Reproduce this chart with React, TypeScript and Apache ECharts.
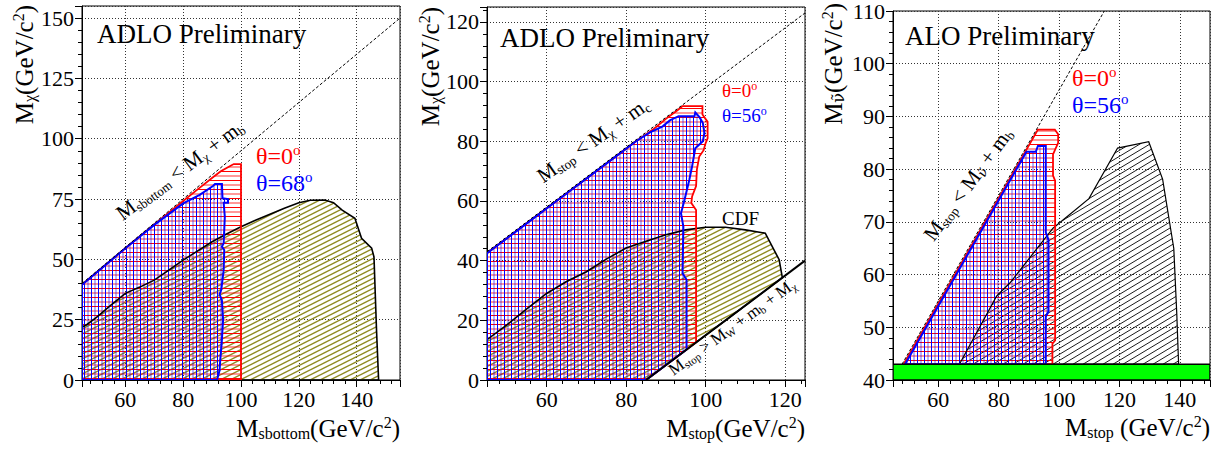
import React, { useEffect, useRef } from 'react';
import * as echarts from 'echarts';

const FONT = "'Liberation Serif', 'Times New Roman', serif";
const GREEK_FONT = "'DejaVu Serif', 'Liberation Serif', serif";

// ---------- Panel 1 : sbottom ----------
const sbRangeX = [45, 155];
const sbRangeY = [0, 155];
const sbKinLimit = [[45, 40], [155, 150]];
const sbCdfRegion = [
  [45, 0], [45, 22], [46.5, 22.8], [50, 26], [55, 31], [60, 35.9], [65, 38.5], [70, 41.4],
  [75, 45.5], [80, 49.7], [85, 53.5], [90, 57.3], [95, 60.5], [100, 63.5], [105, 66.2],
  [110, 68.7], [115, 71.2], [120, 73.5], [124, 74.5], [129, 74.6], [132, 73.5], [135, 70.4],
  [139.4, 67], [141.7, 58.7], [145.2, 54.6], [146, 51], [146.9, 20], [147.6, 0],
];
const sbTheta0Region = [
  [45, 0], [45, 39.5], [60, 54.6], [70, 64.5], [80, 74.2], [85, 79], [90.3, 84], [93, 86.5],
  [96.1, 88.6], [97.5, 89.5], [100, 89.5], [100, 0],
];
const sbTheta68Region = [
  [45, 0], [45, 39.5], [60, 54.6], [70, 64.3], [80, 73.2], [85.7, 76.7], [90.3, 80.4],
  [91, 81.2], [93.4, 81.2], [93.6, 75.3], [95.5, 75], [95.5, 73.5], [94, 73.5], [94.4, 67.7],
  [94, 56.7], [93.4, 55.3], [94.2, 53.9], [94, 45.6], [93.2, 37.5], [92.6, 35.5], [93.4, 33],
  [93.8, 25], [93.3, 15], [92.8, 8], [92.6, 4], [91.7, 0],
];

// ---------- Panel 2 : stop -> c chi ----------
const stRangeX = [45, 125];
const stRangeY = [0, 125];
const stKinLimit = [[45, 43], [125, 123]];
const stWbLimit = [[85, 0], [125, 40]];
const stCdfRegion = [
  [45, 0], [45, 13.5], [50, 18.5], [55, 23.8], [60, 29], [65, 33], [70, 36.3], [75, 40.5],
  [80, 44.2], [85, 46.5], [90, 48.7], [95, 50.3], [100, 51.2], [105, 51.2], [110, 50.3],
  [115, 49.2], [118.5, 40.3], [119.3, 34.3], [85, 0],
];
const stTheta0Region = [
  [45, 0], [45, 42.5], [55, 52.5], [65, 62.5], [75, 72.5], [82.5, 80], [87, 84.2], [90, 87.5],
  [93, 90.5], [94.2, 91.8], [99.2, 91.8], [99.2, 89], [100.5, 86.5], [100.5, 81], [100, 79.4],
  [99.5, 77], [98.4, 74.9], [97.8, 70.5], [97.6, 65], [96.6, 61.5], [96.4, 59.3], [97.6, 57],
  [97.6, 12.6], [85, 0],
];
const stTheta56Region = [
  [45, 0], [45, 42.5], [55, 52.5], [65, 62.5], [75, 72.5], [82.5, 80], [86, 83], [89.2, 85],
  [91, 87], [93.2, 88.4], [97.2, 88.4], [97.4, 89.7], [98.5, 88], [99.3, 86.1], [99.7, 82.8],
  [99.3, 80], [97.4, 77.7], [96.6, 71.6], [95.9, 67.1], [94.7, 60.4], [93.8, 55.9],
  [94.4, 51.4], [94.2, 35.8], [95.2, 33.6], [95.2, 10.2], [85, 0],
];

// ---------- Panel 3 : stop -> b l sneutrino ----------
const snRangeX = [45, 150];
const snRangeY = [40, 110];
const snKinLimit = [[48, 43], [115, 110]];
const snLepBand = [[45, 40], [150, 40], [150, 43], [45, 43]];
const snD0Region = [
  [67, 43], [79.3, 55.9], [83.7, 58.4], [98, 68.8], [109.9, 74.4], [119.4, 84], [129.7, 85.2],
  [134.3, 78.1], [138, 65], [139, 52.5], [139.6, 43],
];
const snTheta0Region = [
  [48.5, 43], [93, 87.5], [98.6, 87.5], [99.7, 86.6], [99.7, 85], [98, 82.8], [98, 78.8],
  [98.7, 77.8], [98.7, 47.5], [97.8, 46.9], [97.8, 43],
];
const snTheta56Region = [
  [49, 43], [89.2, 83.3], [92.3, 83.3], [93, 84.4], [95.6, 84.4], [95.6, 68], [96.5, 66.6],
  [96.5, 53], [95.6, 52], [95.6, 43],
];

// ---------- helpers ----------
function richDef(fs: number, color: string) {
  const L = fs * 1.1;
  const s = Math.round(fs * 0.62);
  return {
    n: { fontSize: fs, lineHeight: L, fontFamily: FONT, fill: color, verticalAlign: 'middle' },
    sp: { fontSize: fs, lineHeight: L, fontFamily: FONT, fill: color, verticalAlign: 'middle' },
    sub: { fontSize: s, lineHeight: L - 0.697 * fs, fontFamily: FONT, fill: color, verticalAlign: 'bottom' },
    subg: { fontSize: s, lineHeight: L - 0.697 * fs, fontFamily: GREEK_FONT, fill: color, verticalAlign: 'bottom' },
    sup: { fontSize: s, lineHeight: L - 0.543 * fs, fontFamily: FONT, fill: color, verticalAlign: 'top' },
  };
}
function richText(parts: Array<[string, string]>) {
  return parts
    .map(([s, t]) =>
      t
        .split(/( )/)
        .filter((x) => x.length)
        .map((x) => (x === ' ' ? '{sp| }' : `{${s}|${x}}`))
        .join('')
    )
    .join('');
}
function txt(x: number, y: number, parts: Array<[string, string]>, fs: number, color: string, align = 'left', rot = 0) {
  return {
    type: 'text',
    x,
    y,
    rotation: rot,
    silent: true,
    z: 100,
    style: {
      text: richText(parts),
      rich: richDef(fs, color),
      fontSize: fs,
      fontFamily: FONT,
      fill: color,
      align,
      verticalAlign: 'middle',
    },
  };
}
function makePattern(w: number, h: number, draw: (c: CanvasRenderingContext2D) => void) {
  const c = document.createElement('canvas');
  c.width = w;
  c.height = h;
  const ctx = c.getContext('2d')!;
  draw(ctx);
  return { image: c.toDataURL(), repeat: 'repeat', imageWidth: w, imageHeight: h };
}
function diagPattern(w: number, h: number, color: string, lw: number) {
  return makePattern(w, h, (ctx) => {
    ctx.strokeStyle = color;
    ctx.lineWidth = lw;
    for (let k = -1; k <= 1; k++) {
      ctx.beginPath();
      ctx.moveTo(0, h + k * h);
      ctx.lineTo(w, k * h);
      ctx.stroke();
    }
  });
}

const deg = (d: number) => (d * Math.PI) / 180;

export default function App() {
  const ref = useRef<HTMLDivElement>(null);
  useEffect(() => {
    const chart = echarts.init(ref.current!, null, { renderer: 'svg' });

    const redPat = makePattern(9, 9, (ctx) => {
      ctx.fillStyle = '#ff0000';
      ctx.fillRect(0, 0, 9, 1);
      ctx.fillStyle = 'rgba(255,0,0,0.4)';
      ctx.fillRect(0, 4, 9, 2);
    });
    const bluePat = makePattern(7, 7, (ctx) => {
      ctx.fillStyle = '#0000ff';
      ctx.fillRect(0, 0, 1, 7);
      ctx.fillStyle = 'rgba(0,0,255,0.3)';
      ctx.fillRect(3, 0, 2, 7);
    });
    const olivePat = diagPattern(10, 5, '#8f8a22', 1.4);
    const blackPat = diagPattern(10, 6, '#000000', 0.9);

    const poly = (idx: number, pts: number[][], style: any, z = 2) => ({
      type: 'custom',
      coordinateSystem: 'cartesian2d',
      xAxisIndex: idx,
      yAxisIndex: idx,
      data: pts,
      clip: true,
      silent: true,
      z,
      renderItem: (params: any, api: any) =>
        params.dataIndex === 0
          ? { type: 'polygon', shape: { points: pts.map((p) => api.coord(p)) }, style }
          : null,
    });
    const line = (idx: number, pts: number[][], ls: any) => ({
      type: 'line',
      xAxisIndex: idx,
      yAxisIndex: idx,
      data: pts,
      symbol: 'none',
      silent: true,
      z: 4,
      lineStyle: ls,
    });
    const dashed = { color: '#000', width: 1, type: [3, 2] };

    const grids = [
      { left: 82, top: 6, width: 318, height: 374 },
      { left: 487, top: 7, width: 318, height: 373 },
      { left: 893, top: 7, width: 317, height: 373 },
    ].map((g) => ({ ...g, show: true, borderColor: '#000', borderWidth: 1, backgroundColor: 'transparent' }));

    const axisCommon = {
      type: 'value',
      axisLine: { show: true, onZero: false, lineStyle: { color: '#000', width: 1 } },
      axisTick: { show: true, length: 7, lineStyle: { color: '#000' } },
      minorTick: { show: true, splitNumber: 5, length: 4, lineStyle: { color: '#000' } },
      splitLine: { show: true, lineStyle: { color: '#333', width: 1, type: [1, 2] } },
    };
    const labelStyle = { color: '#000', fontSize: 22, fontFamily: FONT };
    const xRanges = [sbRangeX, stRangeX, snRangeX];
    const yRanges = [sbRangeY, stRangeY, snRangeY];
    const yIntervals = [25, 20, 10];

    const xAxis = xRanges.map((r, i) => ({
      ...axisCommon,
      gridIndex: i,
      min: r[0],
      max: r[1],
      axisLabel: { ...labelStyle, margin: 8, showMinLabel: false, showMaxLabel: false },
    }));
    const yAxis = yRanges.map((r, i) => ({
      ...axisCommon,
      gridIndex: i,
      min: r[0],
      max: r[1],
      interval: yIntervals[i],
      axisLabel: { ...labelStyle, margin: 8, showMinLabel: true, showMaxLabel: i === 2 },
    }));

    const series: any[] = [
      // panel 1
      poly(0, sbCdfRegion, { fill: olivePat, stroke: 'none' }),
      poly(0, sbTheta0Region, { fill: redPat, stroke: 'none' }),
      poly(0, sbTheta68Region, { fill: bluePat, stroke: 'none' }),
      poly(0, sbCdfRegion, { fill: 'none', stroke: '#000', lineWidth: 1.6 }, 3),
      poly(0, sbTheta0Region, { fill: 'none', stroke: '#ff0000', lineWidth: 1.8 }, 3),
      poly(0, sbTheta68Region, { fill: 'none', stroke: '#0000ff', lineWidth: 2 }, 3),
      line(0, sbKinLimit, dashed),
      // panel 2
      poly(1, stCdfRegion, { fill: olivePat, stroke: 'none' }),
      poly(1, stTheta0Region, { fill: redPat, stroke: 'none' }),
      poly(1, stTheta56Region, { fill: bluePat, stroke: 'none' }),
      poly(1, stCdfRegion, { fill: 'none', stroke: '#000', lineWidth: 1.6 }, 3),
      poly(1, stTheta0Region, { fill: 'none', stroke: '#ff0000', lineWidth: 1.8 }, 3),
      poly(1, stTheta56Region, { fill: 'none', stroke: '#0000ff', lineWidth: 2 }, 3),
      line(1, stKinLimit, dashed),
      line(1, stWbLimit, { color: '#000', width: 2 }),
      // panel 3
      poly(2, snD0Region, { fill: blackPat, stroke: 'none' }),
      poly(2, snTheta0Region, { fill: redPat, stroke: 'none' }),
      poly(2, snTheta56Region, { fill: bluePat, stroke: 'none' }),
      poly(2, snD0Region, { fill: 'none', stroke: '#000', lineWidth: 1.2 }, 3),
      poly(2, snTheta0Region, { fill: 'none', stroke: '#ff0000', lineWidth: 1.8 }, 3),
      poly(2, snTheta56Region, { fill: 'none', stroke: '#0000ff', lineWidth: 2 }, 3),
      line(2, snKinLimit, dashed),
      poly(2, snLepBand, { fill: '#00ff00', stroke: '#000', lineWidth: 1.5 }, 5),
    ];

    const K = '#000';
    const R = '#ff0000';
    const B = '#0000ff';
    const graphic = [
      // panel 1
      txt(97, 34, [['n', 'ADLO Preliminary']], 27, K),
      txt(256, 155.9, [['n', 'θ=0'], ['sup', 'o']], 24, R),
      txt(256, 182.9, [['n', 'θ=68'], ['sup', 'o']], 24, B),
      txt(180, 170, [['n', 'M'], ['sub', 'sbottom'], ['n', ' < M'], ['sub', 'χ'], ['n', ' + m'], ['sub', 'b']], 21, K, 'center', deg(36.5)),
      txt(24, 5, [['n', 'M'], ['sub', 'χ'], ['n', '(GeV/c'], ['sup', '2'], ['n', ')']], 25, K, 'right', Math.PI / 2),
      txt(400, 428, [['n', 'M'], ['sub', 'sbottom'], ['n', '(GeV/c'], ['sup', '2'], ['n', ')']], 25, K, 'right'),
      // panel 2
      txt(500, 37.6, [['n', 'ADLO Preliminary']], 27, K),
      txt(722, 90.3, [['n', 'θ=0'], ['sup', 'o']], 19, R),
      txt(722, 115.3, [['n', 'θ=56'], ['sup', 'o']], 19, B),
      txt(722, 218.6, [['n', 'CDF']], 19, K),
      txt(593, 140, [['n', 'M'], ['sub', 'stop'], ['n', ' < M'], ['sub', 'χ'], ['n', ' + m'], ['sub', 'c']], 21, K, 'center', deg(35)),
      txt(732, 327, [['n', 'M'], ['sub', 'stop'], ['n', ' > M'], ['sub', 'W'], ['n', ' + m'], ['sub', 'b'], ['n', ' + M'], ['sub', 'χ']], 17, K, 'center', deg(35.8)),
      txt(430, 7, [['n', 'M'], ['sub', 'χ'], ['n', '(GeV/c'], ['sup', '2'], ['n', ')']], 25, K, 'right', Math.PI / 2),
      txt(805, 428, [['n', 'M'], ['sub', 'stop'], ['n', '(GeV/c'], ['sup', '2'], ['n', ')']], 25, K, 'right'),
      // panel 3
      txt(905, 36, [['n', 'ALO Preliminary']], 27, K),
      txt(1072, 77.9, [['n', 'θ=0'], ['sup', 'o']], 24, R),
      txt(1072, 104.9, [['n', 'θ=56'], ['sup', 'o']], 24, B),
      txt(968, 184, [['n', 'M'], ['sub', 'stop'], ['n', ' < M'], ['subg', 'ν̃'], ['n', ' + m'], ['sub', 'b']], 21, K, 'center', deg(53.7)),
      txt(833, 3, [['n', 'M'], ['subg', 'ν̃'], ['n', '(GeV/c'], ['sup', '2'], ['n', ')']], 25, K, 'right', Math.PI / 2),
      txt(1210, 427, [['n', 'M'], ['sub', 'stop'], ['n', ' (GeV/c'], ['sup', '2'], ['n', ')']], 25, K, 'right'),
    ];

    chart.setOption({
      animation: false,
      backgroundColor: '#fff',
      textStyle: { fontFamily: FONT, color: '#000' },
      grid: grids,
      xAxis,
      yAxis,
      series,
      graphic,
    });
    return () => chart.dispose();
  }, []);
  return (
    <div
      ref={ref}
      style={{ position: 'absolute', left: 0, top: 0, width: 1218, height: 450, background: '#fff' }}
    />
  );
}
